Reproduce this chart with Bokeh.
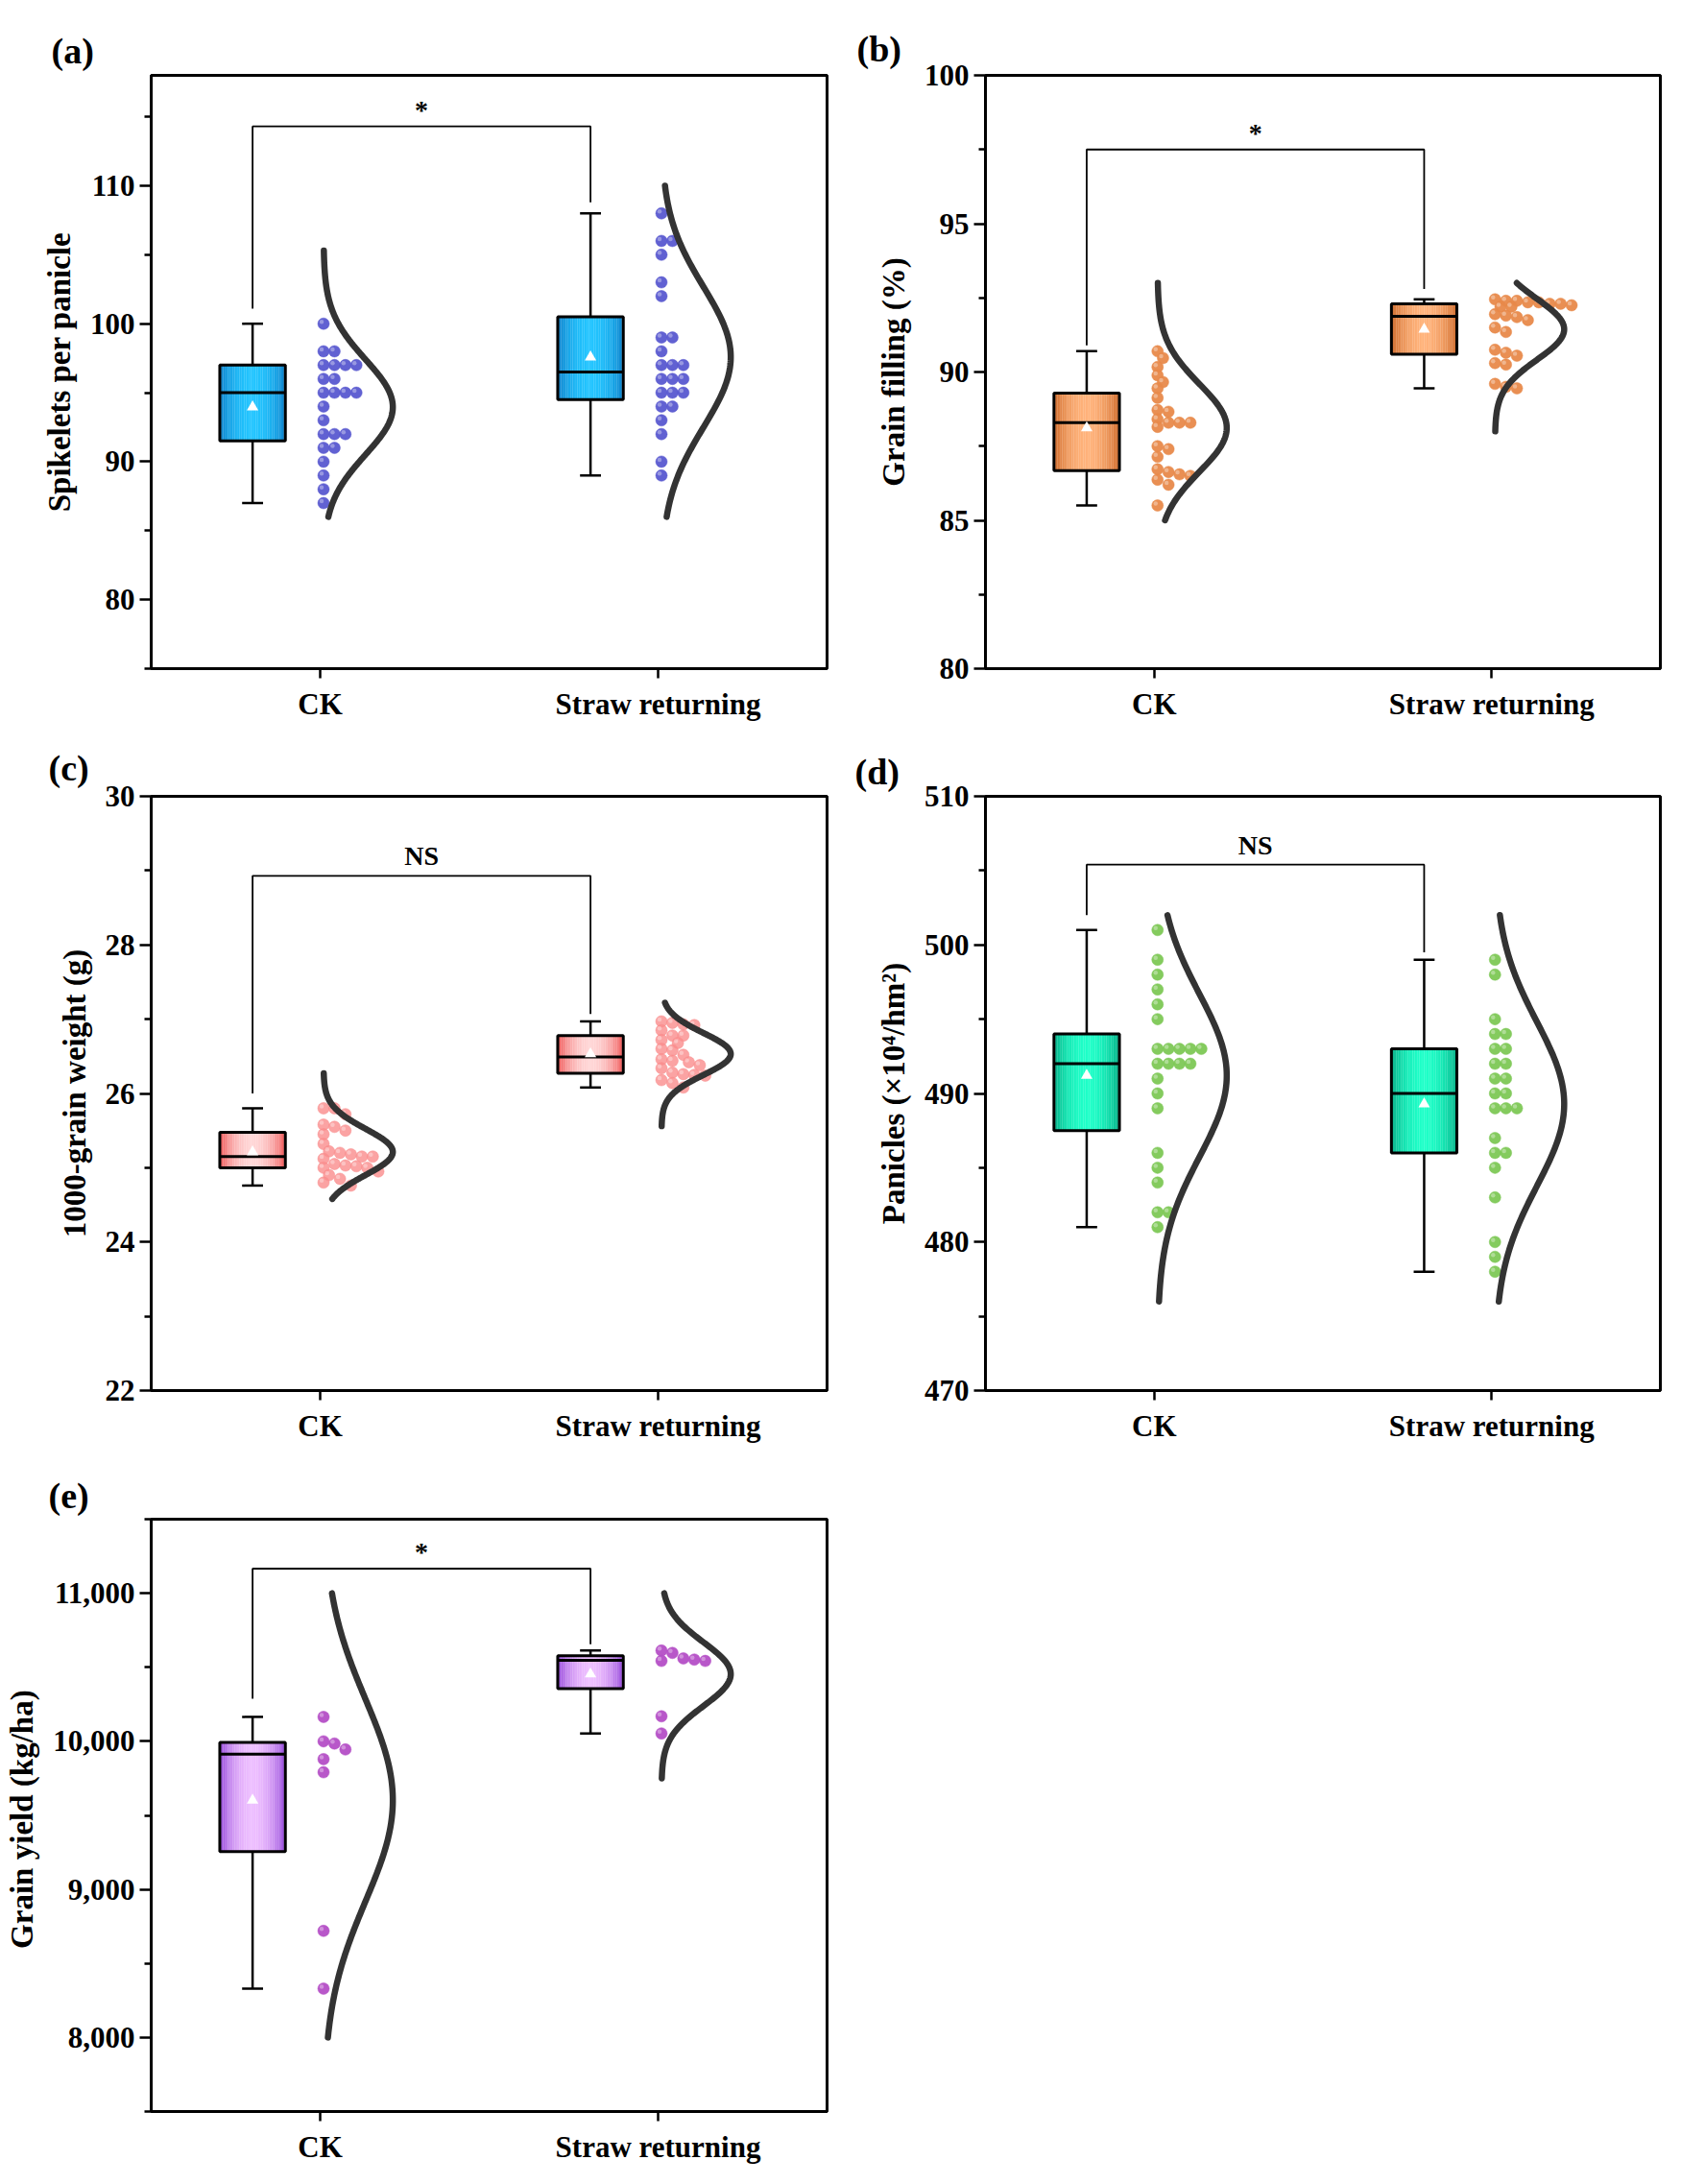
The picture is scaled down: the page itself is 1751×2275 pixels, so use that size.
import numpy as np
from bokeh.plotting import figure
from bokeh.models import FixedTicker, NumeralTickFormatter, Range1d
from bokeh.layouts import gridplot
from bokeh.embed import file_html
from bokeh.resources import INLINE
from bokeh.core.properties import value

# ---------------- data ----------------
categories = ["CK", "Straw returning"]

a_ck = [100, 98, 98, 97, 97, 97, 97, 96, 96, 95, 95, 95, 95, 94, 93, 92, 92, 92, 91, 91, 90, 89, 88, 87]
a_sr = [108, 106, 106, 105, 103, 102, 99, 99, 98, 97, 97, 97, 96, 96, 96, 95, 95, 95, 94, 94, 93, 92, 90, 89]

b_ck = [90.70, 90.47, 90.17, 89.89, 89.66, 89.45, 89.13, 88.72, 88.66, 88.41, 88.29, 88.29,
        88.29, 88.15, 87.50, 87.40, 87.14, 86.72, 86.63, 86.55, 86.50, 86.37, 86.20, 85.50]
b_sr = [92.45, 92.40, 92.40, 92.35, 92.35, 92.30, 92.30, 92.25, 92.20, 92.20, 91.95, 91.90,
        91.85, 91.75, 91.50, 91.35, 90.75, 90.65, 90.55, 90.30, 90.25, 89.60, 89.50, 89.45]

c_ck = [25.80, 25.80, 25.72, 25.58, 25.55, 25.50, 25.45, 25.32, 25.22, 25.20, 25.18, 25.15,
        25.15, 25.12, 25.05, 25.03, 25.02, 25.00, 25.00, 24.95, 24.90, 24.85, 24.80, 24.76]
c_sr = [26.97, 26.95, 26.93, 26.92, 26.85, 26.78, 26.78, 26.72, 26.68, 26.60, 26.58, 26.52,
        26.46, 26.44, 26.42, 26.38, 26.34, 26.28, 26.26, 26.25, 26.24, 26.18, 26.14, 26.08]

d_ck = [501, 499, 498, 497, 496, 495, 493, 493, 493, 493, 493, 492, 492, 492, 492, 491, 490, 489, 486, 485, 484, 482, 482, 481]
d_sr = [499, 498, 495, 494, 494, 493, 493, 492, 492, 491, 491, 490, 490, 489, 489, 489, 487, 486, 486, 485, 483, 480, 479, 478]

e_ck = [10165, 10000, 9985, 9945, 9880, 9791, 8720, 8330]
e_sr = [10613, 10597, 10560, 10552, 10543, 10543, 10169, 10053]

# normal-curve extents (low, high) per group
a_curve = [(86, 105.3), (86, 110)]
b_curve = [(85, 93), (88, 93)]
c_curve = [(24.58, 26.27), (25.56, 27.22)]
d_curve = [(476, 502), (476, 502)]
e_curve = [(8000, 11000), (9750, 11000)]

# significance brackets: (bracket level, left leg bottom, right leg bottom), label
a_bracket = (114.3, 101.1, 108.8); a_sig = "*"
b_bracket = (97.5, 90.9, 92.8); b_sig = "*"
c_bracket = (28.93, 26.0, 27.07); c_sig = "NS"
d_bracket = (505.4, 502.0, 499.5); d_sig = "NS"
e_bracket = (11166, 10287, 10655); e_sig = "*"

# axes
a_y = (75, 118, [80, 90, 100, 110], [75, 85, 95, 105, 115])
b_y = (80, 100, [80, 85, 90, 95, 100], [82.5, 87.5, 92.5, 97.5])
c_y = (22, 30, [22, 24, 26, 28, 30], [23, 25, 27, 29])
d_y = (470, 510, [470, 480, 490, 500, 510], [475, 485, 495, 505])
e_y = (7500, 11500, [8000, 9000, 10000, 11000], [7500, 8500, 9500, 10500, 11500])

ylabels = ["Spikelets per panicle", "Grain filling (%)", "1000-grain weight (g)",
           "Panicles (\u00d710\u2074/hm\u00b2)", "Grain yield  (kg/ha)"]
panel_tags = ["(a)", "(b)", "(c)", "(d)", "(e)"]

FONT = "Liberation Serif"


def hex2rgb(h):
    h = h.lstrip("#")
    return tuple(int(h[i:i + 2], 16) for i in (0, 2, 4))


def mix(c1, c2, t):
    a, b = hex2rgb(c1), hex2rgb(c2)
    return "#%02x%02x%02x" % tuple(int(round(a[i] + (b[i] - a[i]) * t)) for i in range(3))


def quartiles(v):
    s = np.sort(np.asarray(v, float))
    n = len(s)
    h = n // 2
    return np.median(s[:h]), np.median(s), np.median(s[n - h:])


def swarm(vals, base, step_px, ppx, ppy, dmin):
    vals = np.asarray(vals, float)
    order = np.argsort(-vals, kind="stable")
    placed = []
    xs = np.zeros(len(vals))
    for i in order:
        yp = vals[i] * ppy
        k = 0
        while True:
            xp = k * step_px
            if all((xp - px) ** 2 + (yp - py) ** 2 >= dmin ** 2 for px, py in placed):
                break
            k += 1
        placed.append((xp, yp))
        xs[i] = base + xp / ppx
    return xs


def make_panel(idx, groups, curves, bracket, sig, yax, colors, dims, tag_pos, dmin, fmt=None):
    fw, fh, mbl, mbr, mbt, mbb = dims
    ymin, ymax, ticks, minors = yax
    box_edge, box_mid, dot_col, dot_alpha = colors
    p = figure(frame_width=fw, frame_height=fh, min_border_left=mbl, min_border_right=mbr,
               min_border_top=mbt, min_border_bottom=mbb, output_backend="svg",
               toolbar_location=None, x_range=Range1d(0, 2), y_range=Range1d(ymin, ymax))
    p.grid.visible = False
    p.background_fill_color = "white"
    p.border_fill_color = "white"
    p.outline_line_color = "black"
    p.outline_line_width = 3

    ppx = fw / 2.0
    ppy = fh / float(ymax - ymin)
    positions = [i + 0.5 for i in range(len(categories))]

    for pos, vals, (clo, chi) in zip(positions, groups, curves):
        v = np.asarray(vals, float)
        q1, med, q3 = quartiles(v)
        vmin, vmax = v.min(), v.max()
        mean = v.mean()
        sd = v.std(ddof=1)
        bc = pos - 0.2
        hw = 0.097
        # gradient box
        n = 40
        edges = np.linspace(bc - hw, bc + hw, n + 1)
        tt = (edges[:-1] + edges[1:]) / 2
        prof = np.sin(np.pi * (tt - (bc - hw)) / (2 * hw)) ** 0.7
        cols = [mix(box_edge, box_mid, t) for t in prof]
        p.quad(left=edges[:-1], right=edges[1:] + 0.0005, bottom=q1, top=q3,
               fill_color=cols, line_color=None)
        # whiskers
        p.segment(x0=[bc, bc], y0=[q3, q1], x1=[bc, bc], y1=[vmax, vmin], line_color="black", line_width=2.5)
        cw = 0.031
        p.segment(x0=[bc - cw, bc - cw], y0=[vmax, vmin], x1=[bc + cw, bc + cw], y1=[vmax, vmin],
                  line_color="black", line_width=2.5)
        # box outline and median
        p.quad(left=[bc - hw], right=[bc + hw], bottom=[q1], top=[q3], fill_color=None,
               line_color="black", line_width=3)
        p.segment(x0=[bc - hw], y0=[med], x1=[bc + hw], y1=[med], line_color="black", line_width=3)
        # mean marker
        p.scatter(x=[bc], y=[mean], marker="triangle", size=12, fill_color="white", line_color=None)
        # dots
        xs = swarm(v, pos + 0.01, 5.7, ppx, ppy, dmin)
        p.scatter(x=xs, y=v, size=12, fill_color=dot_col, fill_alpha=dot_alpha,
                  line_color=dot_col, line_alpha=0.5, line_width=1)
        # highlight for a spherical look
        p.scatter(x=xs - 2.0 / ppx, y=v + 2.0 / ppy, size=4.5, fill_color="white", fill_alpha=0.35,
                  line_color=None)
        # normal curve
        yy = np.linspace(clo, chi, 200)
        xx = pos + 0.01 + 0.205 * np.exp(-0.5 * ((yy - mean) / sd) ** 2)
        p.line(xx, yy, line_color="#333333", line_width=6.5, line_cap="round", line_join="round")

    # bracket
    top, lb, rb = bracket
    L, R = positions[0] - 0.2, positions[1] - 0.2
    p.line([L, L, R, R], [lb, top, top, rb], line_color="black", line_width=1.8)
    p.text(x=[(L + R) / 2], y=[top], text=[sig], text_align="center", text_baseline="bottom",
           y_offset=(-2 if sig == "*" else -5), text_font=value(FONT), text_font_style="bold",
           text_font_size="28px", text_color="black")

    # axes
    p.xaxis.ticker = FixedTicker(ticks=positions)
    p.xaxis.major_label_overrides = {pos: c for pos, c in zip(positions, categories)}
    p.xaxis.minor_tick_line_color = None
    p.xaxis.major_tick_out = 10
    p.xaxis.major_tick_in = 0
    p.xaxis.major_label_standoff = 9
    p.yaxis.ticker = FixedTicker(ticks=ticks, minor_ticks=minors)
    p.yaxis.major_tick_out = 12
    p.yaxis.major_tick_in = 0
    p.yaxis.minor_tick_out = 7
    p.yaxis.minor_tick_in = 0
    p.yaxis.major_label_standoff = 5
    p.yaxis.axis_label = ylabels[idx]
    p.yaxis.axis_label_standoff = 11
    if fmt:
        p.yaxis.formatter = NumeralTickFormatter(format=fmt)
    for ax in (p.xaxis, p.yaxis):
        ax.axis_line_width = 3
        ax.axis_line_color = "black"
        ax.major_tick_line_width = 2.5
        ax.minor_tick_line_width = 2.5
        ax.major_label_text_font = FONT
        ax.major_label_text_font_style = "bold"
        ax.major_label_text_font_size = "31px"
        ax.major_label_text_color = "black"
        ax.axis_label_text_font = FONT
        ax.axis_label_text_font_style = "bold"
        ax.axis_label_text_font_size = "33px"
        ax.axis_label_text_color = "black"

    p.title.text = panel_tags[idx]
    p.title.align = "left"
    p.title.offset = tag_pos[0]
    p.title.standoff = tag_pos[1]
    p.title.text_font = FONT
    p.title.text_font_style = "bold"
    p.title.text_font_size = "38px"
    p.title.text_color = "black"
    return p


pa = make_panel(0, [a_ck, a_sr], a_curve, a_bracket, a_sig, a_y,
                ("#0A78C4", "#22C4FF", "#5858D0", 0.95), (704, 618, 157, 17, 78, 60), (-104, 10), 10.5)
pb = make_panel(1, [b_ck, b_sr], b_curve, b_bracket, b_sig, b_y,
                ("#C8601E", "#FFB27A", "#E8894A", 0.95), (703, 618, 148, 6, 78, 60), (-134, 14), 8.0)
pc = make_panel(2, [c_ck, c_sr], c_curve, c_bracket, c_sig, c_y,
                ("#EE4646", "#FFD6D6", "#FA8C8C", 0.8), (704, 619, 157, 17, 73, 60), (-107, 17), 9.0)
pd = make_panel(3, [d_ck, d_sr], d_curve, d_bracket, d_sig, d_y,
                ("#00A57E", "#1EFFC8", "#7DC855", 0.95), (703, 619, 148, 6, 73, 60), (-136, 10), 10.5)
pe = make_panel(4, [e_ck, e_sr], e_curve, e_bracket, e_sig, e_y,
                ("#8A3AD6", "#EDBEFF", "#B44EC6", 0.95), (704, 617, 157, 17, 74, 60), (-107, 8), 10.5,
                fmt="0,0")

grid = gridplot([[pa, pb], [pc, pd], [pe, None]], toolbar_location=None)
open("out.html", "w").write(file_html(grid, INLINE))
